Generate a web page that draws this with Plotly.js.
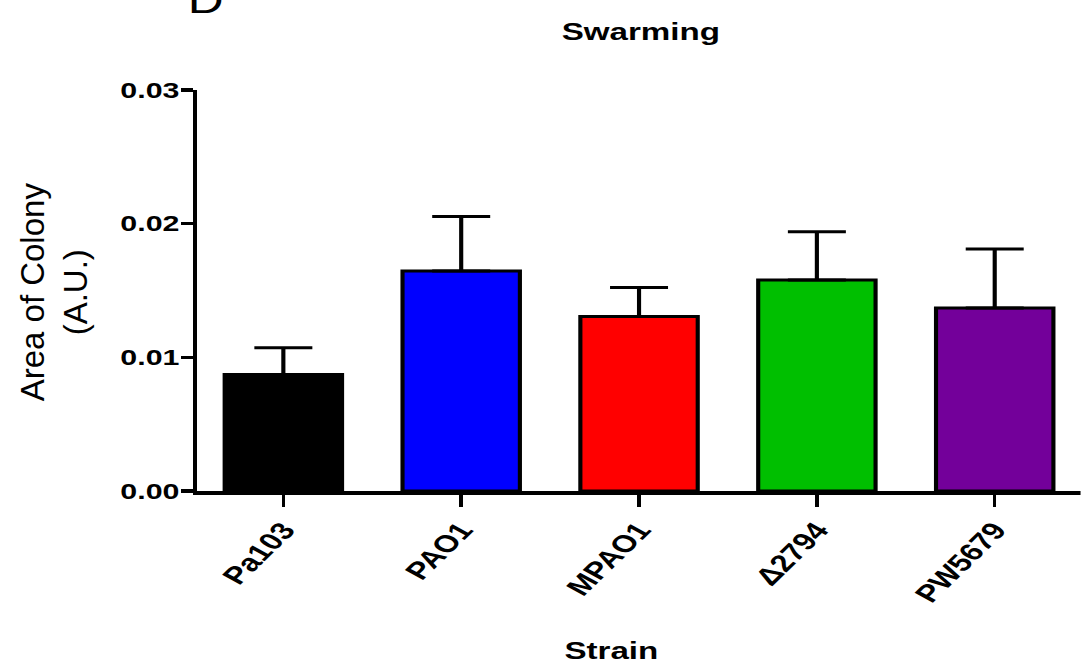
<!DOCTYPE html>
<html><head><meta charset="utf-8">
<script src="https://cdn.plot.ly/plotly-3.0.1.min.js"></script>
<style>html,body{margin:0;padding:0;background:#fff;overflow:hidden}
#chart{height:667px;transform-origin:0 0}</style>
</head><body><div id="chart"></div>
<script>
// ---- data ----
const strains = ['Pa103', 'PAO1', 'MPAO1', 'Δ2794', 'PW5679'];
const meanArea = [0.00872, 0.01645, 0.01305, 0.01579, 0.01369];
const semArea = [0.00199, 0.00409, 0.00218, 0.00360, 0.00441];
const barColors = ['#000000', '#0000FF', '#FF0000', '#00BF00', '#73009A'];
const yTickVals = [0, 0.01, 0.02, 0.03];
const yTickText = ['0.00', '0.01', '0.02', '0.03'];

// ---- layout helpers ----
const S = 1.38;              // horizontal stretch of the whole picture
const W = 1081 / S;
const H = 667;
const L = 198, T = 90, B = 176;     // page pixels
const plotW = 1081 - L, plotH = H - T - B;
const px = v => v / S;
const paperX = pageX => (pageX - L) / plotW;
const paperY = pageY => (H - B - pageY) / plotH;
const catStep = 177.8, cat0 = 284;

const chart = document.getElementById('chart');
chart.style.width = W + 'px';
chart.style.transform = 'scaleX(' + S + ')';

const FONT = 'Liberation Sans, Arial, sans-serif';
const YTITLE_X = 55;

const trace = {
  type: 'bar',
  x: strains,
  y: meanArea,
  width: 0.66,
  marker: { color: barColors, line: { color: '#000', width: 3 } },
  error_y: {
    type: 'data', symmetric: false,
    array: semArea, arrayminus: semArea.map(() => 0),
    color: '#000', thickness: 3, width: px(29)
  },
  hoverinfo: 'x+y'
};

const layout = {
  width: W, height: H,
  margin: { l: px(L), r: 0, t: T, b: B, pad: 0 },
  paper_bgcolor: '#fff', plot_bgcolor: '#fff',
  showlegend: false,
  xaxis: {
    type: 'category',
    range: [-(cat0 - L) / catStep, (1081 - cat0) / catStep],
    showline: true, linecolor: '#000', linewidth: 3.5,
    ticks: 'outside', ticklen: 12, tickwidth: px(3.5), tickcolor: '#000',
    tickangle: -53,
    tickfont: { family: FONT, size: 24, color: '#000', weight: 'bold' },
    showgrid: false, zeroline: false, fixedrange: true
  },
  yaxis: {
    range: [0, 0.03], tickvals: yTickVals, ticktext: yTickText,
    showline: true, linecolor: '#000', linewidth: px(4),
    ticks: 'outside', ticklen: px(12), tickwidth: 3.5, tickcolor: '#000',
    ticklabelstandoff: -3,
    tickfont: { family: FONT, size: 22, color: '#000', weight: 'bold' },
    showgrid: false, zeroline: false, fixedrange: true
  },
  annotations: [
    { text: 'Swarming', xref: 'paper', yref: 'paper', x: paperX(641), y: paperY(32),
      xanchor: 'center', yanchor: 'middle', showarrow: false,
      font: { family: FONT, size: 24, color: '#000', weight: 'bold' } },
    { text: 'Strain', xref: 'paper', yref: 'paper', x: paperX(612), y: paperY(650),
      xanchor: 'center', yanchor: 'middle', showarrow: false,
      font: { family: FONT, size: 24, color: '#000', weight: 'bold' } },
    { text: 'Area of Colony<br>(A.U.)', xref: 'paper', yref: 'paper', x: paperX(YTITLE_X), y: paperY(292),
      xanchor: 'center', yanchor: 'middle', showarrow: false, textangle: -90,
      font: { family: FONT, size: 33, color: '#000' } },
    { text: 'D', xref: 'paper', yref: 'paper', x: paperX(206), y: paperY(1),
      xanchor: 'center', yanchor: 'middle', showarrow: false,
      font: { family: FONT, size: 36, color: '#000' } }
  ]
};

Plotly.newPlot('chart', [trace], layout, { displayModeBar: false, staticPlot: true }).then(() => {
  // keep the rotated axis title unstretched (its glyph height lies along x)
  const g = chart.querySelector('.annotation[data-index="2"]');
  if (g) {
    const cx = YTITLE_X / S;
    g.setAttribute('transform', 'translate(' + cx + ',0) scale(' + (1 / S) + ',1) translate(' + (-cx) + ',0)');
  }
});
</script>
</body></html>
